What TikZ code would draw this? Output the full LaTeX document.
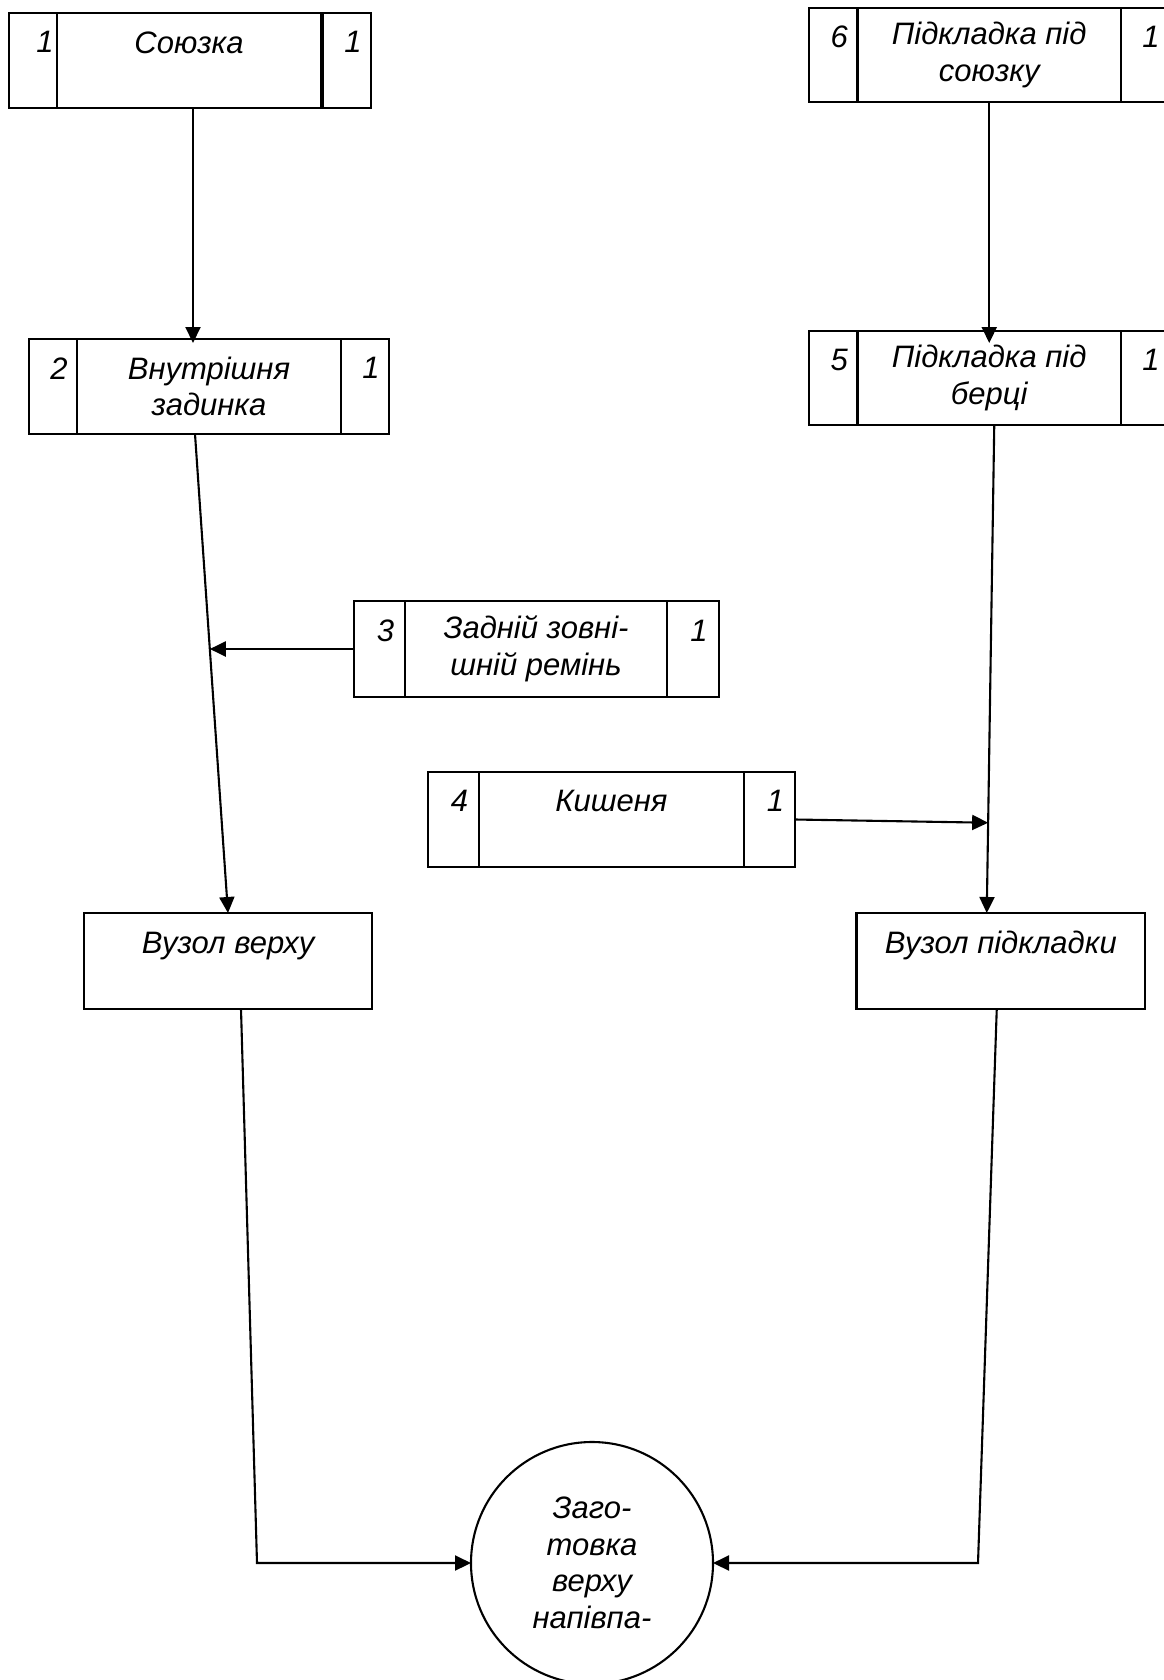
\documentclass[tikz,border=0pt]{standalone}
\usepackage{fontspec}
\setmainfont{Liberation Sans}
\usetikzlibrary{arrows.meta}

\newcommand{\diagfont}{\fontsize{31}{36.5}\selectfont\itshape}

\begin{document}
\begin{tikzpicture}[x=1pt, y=-1pt, line width=2.1pt,
    >={Triangle[length=16pt,width=15pt]},
    cell/.style={draw, anchor=north west, inner sep=0pt, outer sep=0pt,
      align=center, font=\diagfont, minimum height=95},
    numcell/.style={cell, execute at begin node={\hspace*{12pt}}},
    blob/.style={draw, circle, inner sep=0pt, outer sep=0pt,
      align=center, font=\diagfont, minimum size=242}]
    \useasboundingbox (0,0) rectangle (1163,1680);

    % Draw part 1
    \node[cell, minimum width=48, execute at begin node={\hspace*{24pt}}] (n1) at (9,13) {1\\~};
    \node[cell, minimum width=264] (t1) at (n1.north east) {Союзка\\~};
    \node[numcell, minimum width=48] (q1) at (323,13) {1\\~};

    % Draw part 2
    \node[numcell, minimum width=48] (n2) at (29,339) {2\\~};
    \node[cell, minimum width=264] (t2) at (n2.north east) {Внутрішня\\задинка};
    \node[numcell, minimum width=48] (q2) at (t2.north east) {1\\~};

    % Draw part 3
    \node[numcell, minimum width=51, minimum height=96] (n3) at (354,601) {3\\~};
    \node[cell, minimum width=262, minimum height=96] (t3) at (n3.north east) {Задній зовні-\\шній ремінь};
    \node[numcell, minimum width=52, minimum height=96] (q3) at (t3.north east) {1\\~};

    % Draw part 4
    \node[numcell, minimum width=51] (n4) at (428,772) {4\\~};
    \node[cell, minimum width=265] (t4) at (n4.north east) {Кишеня\\~};
    \node[numcell, minimum width=51] (q4) at (t4.north east) {1\\~};

    % Draw part 5
    \node[numcell, minimum width=48.5, minimum height=94] (n5) at (809,331) {5\\~};
    \node[cell, minimum width=263.5, minimum height=94] (t5) at (n5.north east) {Підкладка під\\берці};
    \node[numcell, minimum width=48, minimum height=94] (q5) at (t5.north east) {1\\~};

    % Draw part 6
    \node[numcell, minimum width=48.5, minimum height=94] (n6) at (809,8) {6\\~};
    \node[cell, minimum width=263.5, minimum height=94] (t6) at (n6.north east) {Підкладка під\\союзку};
    \node[numcell, minimum width=48, minimum height=94] (q6) at (t6.north east) {1\\~};

    % Units and result
    \node[cell, minimum width=288, minimum height=96] (v1) at (84,913) {Вузол верху\\~};
    \node[cell, minimum width=288.5, minimum height=96] (v2) at (856.5,913) {Вузол підкладки\\~};
    \node[blob] (c) at (592,1563) {Заго-\\товка\\верху\\напівпа-};

    % Left chain
    \draw[->] ([xshift=4]t1.south) -- ([xshift=4,yshift=-4]t1.south |- t2.north);
    \draw[->] ([xshift=-14]t2.south) -- coordinate[pos=0.449] (j1) (v1.north);
    \draw[->] (n3.west) -- (n3.west -| j1);

    % Right chain
    \draw[->] (t6.south) -- ([yshift=-12]t5.north);
    \draw[->] ([xshift=5]t5.south) -- coordinate[pos=0.815] (j2) ([xshift=-14]v2.north);
    \draw[->] (q4.east) -- (j2);

    % Into the circle
    \coordinate (k1) at (257,1563);
    \coordinate (k2) at (978,1563);
    \draw[->] ([xshift=13]v1.south) -- (k1) -- (c.west);
    \draw[->] ([xshift=-4]v2.south) -- (k2) -- (c.east);
\end{tikzpicture}
\end{document}
